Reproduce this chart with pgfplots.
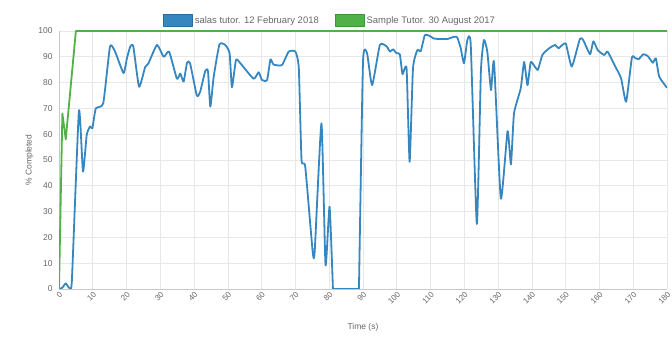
\documentclass[border=0pt]{standalone}
\usepackage{pgfplots}
\pgfplotsset{compat=1.18}
\usepackage{fontspec}
\setmainfont{Liberation Sans}
\definecolor{bl}{RGB}{54,134,192}
\definecolor{bldark}{RGB}{40,110,165}
\definecolor{gr}{RGB}{82,176,72}
\definecolor{grdark}{RGB}{60,150,55}
\definecolor{tick}{RGB}{102,102,102}
\definecolor{gridc}{RGB}{232,232,232}
\begin{document}
\begin{tikzpicture}
\useasboundingbox (-59bp,-49bp) rectangle (613bp,289bp);
\begin{axis}[
  scale only axis,
  width=608bp, height=258bp,
  xmin=0, xmax=180, ymin=0, ymax=100,
  xtick={0,10,...,180}, ytick={0,10,...,100},
  grid=major,
  major grid style={draw=gridc, line width=0.6bp},
  axis line style={draw=gridc!70!gray, line width=0.6bp},
  axis x line*=bottom, axis y line*=left,
  tick style={draw=none},
  font=\fontsize{8.5}{10}\selectfont,
  tick label style={text=tick, font=\fontsize{8.5}{10}\selectfont},
  /pgf/number format/assume math mode=true,
  yticklabel style={xshift=-3bp},
  xticklabel style={rotate=45, anchor=north east, inner sep=1.5bp, font=\fontsize{8}{9}\selectfont},
  xlabel={Time (s)}, ylabel={\% Completed},
  xlabel style={text=tick, at={(axis description cs:0.5,0)}, anchor=north, yshift=-31bp, font=\fontsize{8.5}{10}\selectfont},
  ylabel style={text=tick, at={(axis description cs:0,0.5)}, anchor=south, yshift=22bp, font=\fontsize{8.5}{10}\selectfont},
  legend columns=2,
  legend style={draw=none, fill=none, at={(271bp,258bp)}, anchor=south, yshift=2bp,
    font=\fontsize{9.5}{11}\selectfont, text=tick,
    /tikz/every even column/.append style={column sep=14bp}},
  legend cell align=left,
]
\addplot[bl, line width=1.8bp, line join=round, smooth, tension=0.3,
  legend image code/.code={\draw[fill=bl, draw=bldark, line width=0.8bp] (-3bp,-6bp) rectangle (26bp,6bp);}]
coordinates {
(0,0) (1,0.5) (2,2.2) (3,0.5) (3.8,3) (5.9,69) (7.1,45.5) (8.2,59.7) (9.2,63) (9.9,62.4)
(10.9,70) (13.1,72) (15.1,94) (16.6,92) (19.1,83.7) (20.1,89.4) (21.1,94) (22,94)
(23.7,78.4) (25.5,86) (26.5,87.5) (29,94.6) (31,90) (32.6,92) (34.9,81.5) (35.9,83.5)
(36.9,80.4) (37.9,87.7) (38.8,87.5) (40.8,75) (41.8,76.5) (43.3,84.5) (44.1,84.5)
(44.8,70.7) (45.8,82.3) (47.5,94.8) (49.2,94.6) (50.5,91.4) (51.2,78.2) (52.4,88.8)
(53.7,87.5) (57.6,81.5) (59.1,84) (60.1,81) (61.6,81) (62.6,89) (63.5,87) (66,86.8)
(68,92) (70,92) (71,85.5) (71.8,50) (72.9,47.4) (75.1,14.5) (75.7,14.5) (77.7,64.2)
(78.9,9.3) (80.1,31.9) (81.1,0) (81.1,0) (88.8,0) (88.8,0) (90,88) (91.2,91.4) (92.7,79) (95,94.6)
(97,94) (98,92) (98.9,92.9) (99.9,91.4) (100.9,91) (101.7,83.3) (102.9,85.5)
(103.8,49.3) (104.8,85.5) (106.1,92.6) (107.1,92.2) (108.3,98.4) (109.5,98.2)
(111,97.1) (112.5,96.9) (115,96.9) (117,97.8) (117.9,97.5) (118.9,93.5) (119.9,87.5)
(120.9,96.5) (121.9,94.6) (123.7,25.2) (124.9,84.2) (125.8,96.5) (126.8,92)
(127.9,77.1) (128.8,87.9) (130.8,35.1) (132.8,61.2) (133.8,48.3) (134.7,68)
(136.7,77.8) (137.7,88) (138.7,79) (139.7,88) (141.7,84.9) (143.1,90.7) (145.1,93.3)
(146.9,94.6) (147.9,93.3) (150,95.2) (151.8,86.2) (154.2,96.9) (155.2,96.5)
(157.2,91) (158.2,96) (159.5,92.6) (161.4,90.7) (162.4,92) (164.7,86.2) (166.4,81.7)
(167.9,72.6) (169.6,89.7) (170.6,89.5) (171.6,89.1) (173,91) (174.3,90.3)
(175.8,87.7) (176.7,89.4) (177.7,82.3) (180,78)
};
\addlegendentry{salas tutor. 12 February 2018}
\addplot[gr, line width=1.8bp, line join=round,
  legend image code/.code={\draw[fill=gr, draw=grdark, line width=0.8bp] (-3bp,-6bp) rectangle (26bp,6bp);}]
coordinates {(0,0) (1,68) (2,58) (5,100) (180,100)};
\addlegendentry{Sample Tutor. 30 August 2017}
\end{axis}
\end{tikzpicture}
\end{document}
